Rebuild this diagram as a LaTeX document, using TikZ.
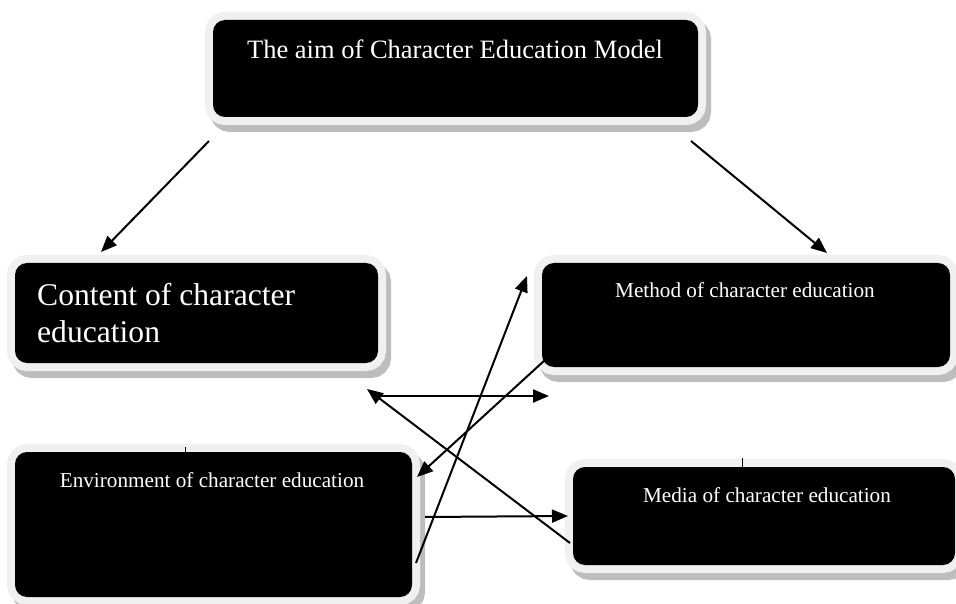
\documentclass[tikz,border=0pt]{standalone}
\usepackage{fontspec}
\setmainfont{Liberation Serif}
\usetikzlibrary{arrows.meta}
\definecolor{rimgray}{HTML}{F0F0F0}
\definecolor{shadowgray}{HTML}{BDBDBD}
\tikzset{
  blackbox/.style={fill=black, rounded corners=12pt, inner sep=0pt, draw=none,
    preaction={draw=shadowgray, line width=16pt, transform canvas={shift={(5,7)}}},
    preaction={draw=rimgray, line width=16pt}},
  boxtext/.style={text=white, inner sep=0pt},
  smalltext/.style={boxtext, anchor=base, font=\fontsize{21.2}{25}\selectfont},
  conn/.style={line width=2pt, -{Triangle[length=16pt,width=13pt]}},
  tick/.style={line width=1pt}
}
\begin{document}
\begin{tikzpicture}[x=1pt,y=-1pt]
\useasboundingbox (0,0) rectangle (956,604);
% boxes
\node[blackbox, minimum width=485pt, minimum height=97pt] (aim) at (455.5,68.5) {};
\node[blackbox, minimum width=363pt, minimum height=100pt] (content) at (196.5,313) {};
\node[blackbox, minimum width=408pt, minimum height=104pt] (method) at (746,315) {};
\node[blackbox, minimum width=397pt, minimum height=145pt] (env) at (213.5,524.5) {};
\node[blackbox, minimum width=382pt, minimum height=98pt] (media) at (764,516) {};
% texts
\node[boxtext, anchor=base, font=\fontsize{26.5}{30}\selectfont] (aimtext) at (455,59) {The aim of Character Education Model};
\node[boxtext, anchor=base west, align=left, font=\fontsize{31.6}{37}\selectfont] (contenttext) at (37,342) {Content of character\\education};
\node[smalltext] (methodtext) at (745,297) {Method of character education};
\node[smalltext] (envtext) at (212,487) {Environment of character education};
\node[smalltext] (mediatext) at (767,502) {Media of character education};
% connector end points
\coordinate (a1s) at (209,141); \coordinate (a1e) at (101,252);
\coordinate (a2s) at (691,141); \coordinate (a2e) at (827,253);
\coordinate (a3s) at (380,396); \coordinate (a3e) at (549,396);
\coordinate (a4s) at (570,543); \coordinate (a4e) at (367,389);
\coordinate (a5s) at (545,360); \coordinate (a5e) at (417,477);
\coordinate (a6s) at (416,563); \coordinate (a6e) at (527,276);
\coordinate (a7s) at (425,517); \coordinate (a7e) at (568,516);
\coordinate (t1s) at (185,447); \coordinate (t1e) at (185,452);
\coordinate (t2s) at (742,458); \coordinate (t2e) at (742,467);
% connectors
\draw[conn] (a1s) -- (a1e);
\draw[conn] (a2s) -- (a2e);
\draw[conn] (a3s) -- (a3e);
\draw[conn] (a4s) -- (a4e);
\draw[conn] (a5s) -- (a5e);
\draw[conn] (a6s) -- (a6e);
\draw[conn] (a7s) -- (a7e);
\draw[tick] (t1s) -- (t1e);
\draw[tick] (t2s) -- (t2e);
\end{tikzpicture}
\end{document}
